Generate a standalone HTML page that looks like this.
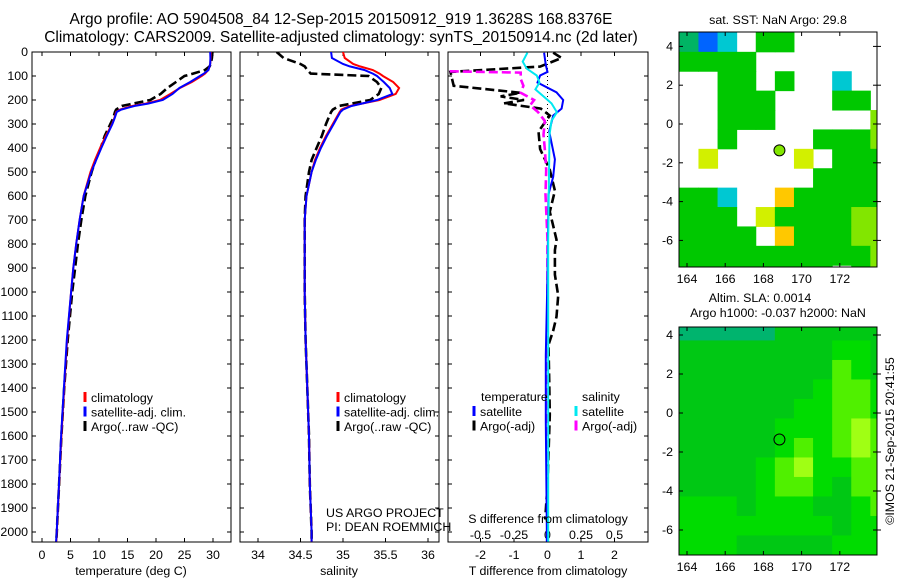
<!DOCTYPE html>
<html><head><meta charset="utf-8">
<style>
html,body{margin:0;padding:0;background:#fff;}
svg{display:block;font-family:"Liberation Sans",sans-serif;}
text{font-size:12.4px;fill:#000;}
</style></head>
<body>
<svg id="chart" width="900" height="580" viewBox="0 0 900 580" xmlns="http://www.w3.org/2000/svg">
<text x="341" y="24" text-anchor="middle" style="font-size:15.5px">Argo profile: AO 5904508_84 12-Sep-2015 20150912_919 1.3628S 168.8376E</text>
<text x="341" y="42" text-anchor="middle" style="font-size:15.5px">Climatology: CARS2009. Satellite-adjusted climatology: synTS_20150914.nc (2d later)</text>
<defs>
<clipPath id="c1"><rect x="32" y="52" width="199" height="490"/></clipPath>
<clipPath id="c2"><rect x="240" y="52" width="199" height="490"/></clipPath>
<clipPath id="c3"><rect x="448" y="52" width="200" height="490"/></clipPath>
<clipPath id="m1"><rect x="679" y="32" width="198" height="235"/></clipPath>
<clipPath id="m2"><rect x="679" y="327" width="198" height="228"/></clipPath>
</defs>
<g id="g1"></g>
<g id="g2"></g>
<g id="g3"></g>
<g id="gm1"></g>
<g id="gm2"></g>
<text x="131" y="575" text-anchor="middle">temperature (deg C)</text>
<text x="339" y="575" text-anchor="middle">salinity</text>
<text x="548" y="575" text-anchor="middle">T difference from climatology</text>
<text x="548" y="523" text-anchor="middle">S difference from climatology</text>
<text x="326" y="517">US ARGO PROJECT</text>
<text x="326" y="531">PI: DEAN ROEMMICH</text>
<text x="778" y="24" text-anchor="middle">sat. SST: NaN Argo: 29.8</text>
<text x="760" y="302" text-anchor="middle">Altim. SLA: 0.0014</text>
<text x="778" y="317" text-anchor="middle">Argo h1000: -0.037 h2000: NaN</text>
<text transform="translate(894,441) rotate(-90)" text-anchor="middle">©IMOS 21-Sep-2015 20:41:55</text>
</svg>
<script>
// ---------- data ----------
const depthP = [0,25,50,60,75,90,100,125,150,175,200,215,225,240,250,275,300,350,400,450,500,600,700,800,900,1000,1200,1400,1600,1800,2000,2040];
const climT = [29.6,29.6,29.5,29.4,29.2,28.6,28.0,26.3,24.2,22.5,20.7,18.2,15.8,13.7,13.0,12.7,12.3,11.2,10.2,9.3,8.5,7.3,6.6,6.0,5.5,5.1,4.4,3.9,3.4,3.0,2.6,2.5];
const satT  = [29.5,29.55,29.5,29.4,29.2,28.4,27.7,26.0,24.1,22.9,21.2,18.6,16.2,13.9,13.1,12.75,12.35,11.35,10.4,9.5,8.65,7.32,6.6,6.0,5.5,5.1,4.35,3.85,3.35,2.98,2.58,2.48];
const argoT = [29.9,29.8,29.6,29.4,28.6,26.5,25.0,23.5,22.0,20.8,19.0,16.0,14.0,13.0,12.8,12.5,12.0,11.0,10.3,9.4,8.7,7.6,6.9,6.3,5.8,5.3,4.5,3.9,3.4,3.0,2.6,2.5];
const climS = [35.0,35.02,35.12,35.2,35.35,35.43,35.47,35.59,35.66,35.62,35.43,35.22,35.08,34.98,34.96,34.92,34.88,34.80,34.73,34.67,34.63,34.57,34.55,34.55,34.55,34.55,34.56,34.58,34.60,34.61,34.63,34.63];
const satS  = [34.86,34.87,35.0,35.08,35.25,35.35,35.4,35.48,35.55,35.58,35.4,35.22,35.1,35.0,34.97,34.93,34.89,34.81,34.74,34.68,34.63,34.57,34.55,34.55,34.55,34.55,34.56,34.58,34.60,34.61,34.63,34.63];
const argoS = [34.22,34.3,34.5,34.55,34.58,34.62,35.3,35.4,35.45,35.42,35.32,35.1,34.95,34.88,34.86,34.83,34.8,34.75,34.69,34.63,34.6,34.56,34.55,34.55,34.55,34.55,34.56,34.58,34.6,34.61,34.63,34.63];
const depthSatDT = [3,54,83,98,127,168,200,236,265,331,447,520,593,928,1263,1540,1977,2040];
const satDT = [-0.1,-0.05,0,-0.22,-0.3,0.27,0.47,0.42,0.17,0.05,0.22,0.17,0.03,0,-0.05,-0.05,-0.02,-0.02];
const depthArgoDT = [3,25,61,83,141,170,185,200,214,236,265,331,404,491,578,666,724,782,826,928,1015,1103,1161,1220,1365,1511,1802,1948];
const argoDT = [0.17,0.42,-0.22,-2.9,-2.8,-0.8,-1.4,-0.7,-1.3,-0.2,0.07,-0.27,-0.22,0.07,0.22,0.07,0.17,0.27,0.22,0.22,0.32,0.27,0.17,0.03,0.05,0.07,0,-0.07];
const depthSatDS = [3,40,69,98,127,156,185,214,251,287,345,782,1948,2040];
const satDS = [-0.15,-0.185,-0.155,-0.08,-0.06,-0.09,-0.03,0.03,0.07,0.03,0.015,0.005,0.005,0.005];
const depthArgoDS = [0,80,86,112,141,170,200,222,251,287,345,404,491,593,782,1074,1948,2040];
const argoDS = [-0.78,-0.78,-0.2,-0.2,-0.18,-0.2,-0.1,-0.13,-0.07,-0.02,-0.03,-0.02,-0.01,-0.015,0,0,0,0];
const depthTicks = [0,100,200,300,400,500,600,700,800,900,1000,1100,1200,1300,1400,1500,1600,1700,1800,1900,2000];
const tempTicks = [0,5,10,15,20,25,30];
const salTicks = [34,34.5,35,35.5,36];
const tdTicks = [-2,-1,0,1,2];
const sdTicks = [-0.5,-0.25,0,0.25,0.5];
const sdTickLabels = ["-0.5","-0.25","0","0.25","0.5"];
const lonTicks = [164,166,168,170,172];
const latTicks = [4,2,0,-2,-4,-6];
const sstGrid = [
[2,0,1,-1,3,3,-1,-1,-1,-1,-1],
[3,3,3,3,-1,-1,-1,-1,-1,-1,-1],
[-1,-1,3,3,-1,3,-1,-1,1,-1,-1],
[-1,-1,3,3,3,-1,-1,-1,3,3,-1],
[-1,-1,3,3,3,-1,-1,-1,-1,-1,4],
[-1,-1,3,-1,-1,-1,-1,3,3,3,4],
[-1,5,-1,-1,-1,-1,5,-1,3,3,3],
[-1,-1,-1,-1,-1,-1,-1,3,3,3,3],
[3,3,1,-1,-1,6,3,3,3,3,3],
[3,3,3,-1,5,3,3,3,3,4,4],
[3,3,3,3,-1,6,3,3,3,4,4],
[3,3,3,3,3,3,3,3,3,3,4],
[3,3,3,3,3,3,3,3,-1,3,4]];
const slaGrid = [
[0,0,0,0,0,1,1,1,1,1,1],
[1,1,1,1,1,1,1,1,2,2,1],
[1,1,1,1,1,1,1,1,3,2,1],
[1,1,1,1,1,1,1,2,3,3,2],
[1,1,1,1,1,1,2,2,3,3,2],
[1,1,1,1,1,2,2,2,3,4,3],
[1,1,1,1,1,2,3,2,3,4,3],
[1,1,1,1,2,3,4,2,2,3,3],
[1,1,1,1,2,3,3,2,1,3,3],
[2,2,2,1,2,2,2,1,1,2,3],
[2,2,2,2,2,2,2,2,1,2,2],
[2,2,2,1,1,1,1,1,2,2,2],
[2,2,2,1,1,1,1,1,2,2,2]];
const argoLon = [168.84];
const argoLat = [-1.36];

// ---------- helpers ----------
const NS = "http://www.w3.org/2000/svg";
function mk(tag, parent, attrs){const e=document.createElementNS(NS,tag);for(const k in attrs)e.setAttribute(k,attrs[k]);parent.appendChild(e);return e;}
const yD = d => 52 + d*0.24;
const xT = v => 42 + v*5.7;
const xS = v => 258 + (v-34)*85;
const xTD = v => 547.5 + v*33.5;
const xSD = v => 547.5 + v*134;
function line(g, xs, ds, fx, color, dash, clip, name){
  const pts = xs.map((v,i)=>fx(v).toFixed(1)+","+yD(ds[i]).toFixed(1)).join(" ");
  const p = mk("polyline", g, {points:pts, fill:"none", stroke:color, "stroke-width":dash?2.6:2, "clip-path":"url(#"+clip+")"});
  if(dash) p.setAttribute("stroke-dasharray","9,4");
  
  
}
function frame(g, x, w){
  const r = mk("rect", g, {x:x, y:52, width:w, height:490, fill:"none", stroke:"#000", "stroke-width":1});
  
  
  depthTicks.forEach(d=>{
    mk("line", g, {x1:x, x2:x+4, y1:yD(d), y2:yD(d), stroke:"#000"});
    mk("line", g, {x1:x+w-4, x2:x+w, y1:yD(d), y2:yD(d), stroke:"#000"});
  });
}
function xticks(g, vals, fx, labels, ly){
  vals.forEach((v,i)=>{
    mk("line", g, {x1:fx(v), x2:fx(v), y1:542, y2:538, stroke:"#000"});
    mk("line", g, {x1:fx(v), x2:fx(v), y1:52, y2:56, stroke:"#000"});
    if(labels){const t=mk("text", g, {x:fx(v), y:ly, "text-anchor":"middle"}); t.textContent=labels[i];
      
      }
  });
}
function legend(g, x, y0, items){
  items.forEach((it,i)=>{
    const y = y0 + i*14.5;
    mk("line", g, {x1:x, x2:x, y1:y-10, y2:y, stroke:it[1], "stroke-width":3});
    const t = mk("text", g, {x:x+6, y:y}); t.textContent = it[0];
    
    
  });
}

const g1 = document.getElementById("g1");
frame(g1, 32, 199);
depthTicks.forEach(d=>{const t=mk("text", g1, {x:28, y:yD(d)+4, "text-anchor":"end"}); t.textContent=d;
  
  });
xticks(g1, tempTicks, xT, tempTicks.map(String), 559);
line(g1, argoT, depthP, xT, "#000", true, "c1", "argo-temperature-line");
line(g1, climT, depthP, xT, "#ff0000", false, "c1", "climatology-temperature-line");
line(g1, satT, depthP, xT, "#0000ff", false, "c1", "satellite-temperature-line");
legend(g1, 85, 402, [["climatology","#f00"],["satellite-adj. clim.","#00f"],["Argo(..raw -QC)","#000"]]);

const g2 = document.getElementById("g2");
frame(g2, 240, 199);
xticks(g2, salTicks, xS, ["34","34.5","35","35.5","36"], 559);
line(g2, argoS, depthP, xS, "#000", true, "c2", "argo-salinity-line");
line(g2, climS, depthP, xS, "#ff0000", false, "c2", "climatology-salinity-line");
line(g2, satS, depthP, xS, "#0000ff", false, "c2", "satellite-salinity-line");
legend(g2, 338, 402, [["climatology","#f00"],["satellite-adj. clim.","#00f"],["Argo(..raw -QC)","#000"]]);

const g3 = document.getElementById("g3");
frame(g3, 448, 200);
xticks(g3, tdTicks, xTD, tdTicks.map(String), 559);
sdTicks.forEach((v,i)=>{const t=mk("text", g3, {x:xSD(v), y:539, "text-anchor":"middle"}); t.textContent=sdTickLabels[i];
  
  });
mk("line", g3, {x1:xTD(0), x2:xTD(0), y1:52, y2:140, stroke:"#000", "stroke-dasharray":"1,3"});
line(g3, argoDT, depthArgoDT, xTD, "#000", true, "c3", "argo-t-diff-line");
line(g3, argoDS, depthArgoDS, xSD, "#ff00ff", true, "c3", "argo-s-diff-line");
line(g3, satDT, depthSatDT, xTD, "#0000ff", false, "c3", "satellite-t-diff-line");
line(g3, satDS, depthSatDS, xSD, "#00e8f0", false, "c3", "satellite-s-diff-line");
(function(){
  const t1=mk("text", g3, {x:481, y:401}); t1.textContent="temperature";
  
  
  const t2=mk("text", g3, {x:582, y:401}); t2.textContent="salinity";
  
  
})();
legend(g3, 474, 416, [["satellite","#00f"],["Argo(-adj)","#000"]]);
legend(g3, 576, 416, [["satellite","#00e8f0"],["Argo(-adj)","#f0f"]]);

const sstColors = ["#0064ff","#00c8d2","#00b464","#00c800","#82e600","#d2f000","#ffc800"];
const slaColors = ["#00b46e","#00c814","#00dc00","#50f000","#a0ff14"];
const lonX = lon => 687 + (lon-164)*19.1;
function drawMap(gid, clip, grid, colors, latY, top, h, fillMarker){
  const g = document.getElementById(gid);
  grid.forEach((row,j)=>row.forEach((v,i)=>{
    if(v<0) return;
    const x0 = lonX(163.6+i), x1 = lonX(164.6+i);
    const y0 = latY(4.72-j), y1 = latY(3.72-j);
    const r = mk("rect", g, {x:x0, y:y0, width:x1-x0+0.5, height:y1-y0+0.5, fill:colors[v], "clip-path":"url(#"+clip+")"});
    
    
  }));
  const f = mk("rect", g, {x:679, y:top, width:198, height:h, fill:"none", stroke:"#000"});
  
  
  lonTicks.forEach(l=>{
    mk("line", g, {x1:lonX(l), x2:lonX(l), y1:top+h, y2:top+h-4, stroke:"#000"});
    mk("line", g, {x1:lonX(l), x2:lonX(l), y1:top, y2:top+4, stroke:"#000"});
    const t = mk("text", g, {x:lonX(l), y:top+h+16, "text-anchor":"middle"}); t.textContent=l;
    
    
  });
  latTicks.forEach(l=>{
    mk("line", g, {x1:679, x2:683, y1:latY(l), y2:latY(l), stroke:"#000"});
    mk("line", g, {x1:873, x2:881, y1:latY(l), y2:latY(l), stroke:"#000"});
    const t = mk("text", g, {x:673, y:latY(l)+4, "text-anchor":"end"}); t.textContent=l;
    
    
  });
  argoLon.forEach((lon,k)=>{
    const c = mk("circle", g, {cx:lonX(lon), cy:latY(argoLat[k]), r:5.5, fill:fillMarker, stroke:"#000"});
    
    
  });
}
drawMap("gm1","m1",sstGrid,sstColors,lat=>124-lat*19.4,32,235,"#82e600");
drawMap("gm2","m2",slaGrid,slaColors,lat=>413-lat*19.5,327,228,"none");
</script>
</body></html>
